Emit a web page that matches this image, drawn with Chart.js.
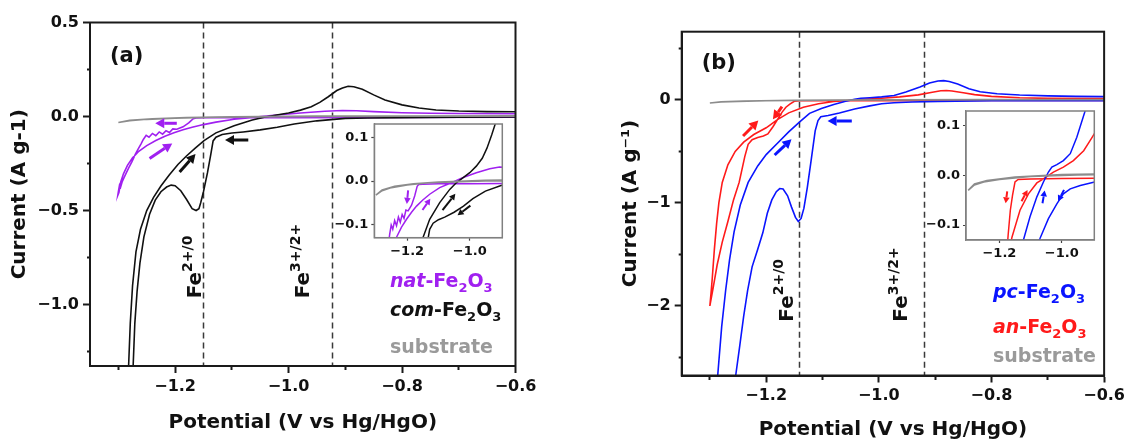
<!DOCTYPE html>
<html>
<head>
<meta charset="utf-8">
<title>Fe2O3 cyclic voltammetry</title>
<script src="https://cdn.jsdelivr.net/npm/chart.js@4.4.1/dist/chart.umd.min.js"></script>
<style>
  html, body { margin: 0; padding: 0; background: #fff; }
  #page { position: relative; width: 1129px; height: 445px; overflow: hidden; }
  #page canvas { position: absolute; }
</style>
</head>
<body>
<div id="page">
  <canvas id="mainA" width="560" height="445" style="left:0;top:0"></canvas>
  <canvas id="mainB" width="569" height="445" style="left:560px;top:0"></canvas>
  <canvas id="insetA" width="180" height="160" style="left:330px;top:110px"></canvas>
  <canvas id="insetB" width="190" height="170" style="left:920px;top:95px"></canvas>
</div>
<script>
const FONT = 'DejaVu Sans';
const INK = '#111111';
const COLORS = { com: '#111111', nat: '#a020f0', pc: '#0a14ff', an: '#ff1a1a', sub: '#8c8c8c', subText: '#9a9a9a' };

// axis ticks (blank label = minor tick)
const potentialTicks = [-1.3, -1.2, -1.1, -1.0, -0.9, -0.8, -0.7, -0.6];
const potentialLabels = ['', '−1.2', '', '−1.0', '', '−0.8', '', '−0.6'];
const currentTicksA = [0.5, 0.25, 0, -0.25, -0.5, -0.75, -1.0, -1.25];
const currentLabelsA = ['0.5', '', '0.0', '', '−0.5', '', '−1.0', ''];
const currentTicksB = [0.5, 0, -0.5, -1, -1.5, -2, -2.5];
const currentLabelsB = ['', '0', '', '−1', '', '−2', ''];
const insetPotentialTicks = [-1.2, -1.0];
const insetPotentialLabels = ['−1.2', '−1.0'];
const insetCurrentTicks = [0.1, 0, -0.1];
const insetCurrentLabels = ['0.1', '0.0', '−0.1'];

// redox reference potentials (dashed lines)
const redoxA = [-1.15, -0.924];
const redoxB = [-1.142, -0.92];

// CV loops: [potential V, current A/g], scan starts at -0.6 V going negative
const comFe2O3 = [
  [-0.60,-0.003],[-0.70,-0.004],[-0.80,-0.006],[-0.86,-0.008],[-0.90,-0.010],[-0.95,-0.023],
  [-0.99,-0.040],[-1.02,-0.057],[-1.05,-0.071],[-1.08,-0.082],[-1.10,-0.088],[-1.117,-0.096],
  [-1.128,-0.110],[-1.133,-0.130],[-1.137,-0.20],[-1.143,-0.30],[-1.150,-0.40],[-1.155,-0.46],
  [-1.158,-0.49],[-1.163,-0.50],[-1.170,-0.49],[-1.180,-0.44],[-1.190,-0.395],[-1.200,-0.368],
  [-1.207,-0.365],[-1.215,-0.375],[-1.225,-0.40],[-1.235,-0.445],[-1.245,-0.52],[-1.255,-0.64],
  [-1.262,-0.78],[-1.267,-0.93],[-1.271,-1.10],[-1.274,-1.33],[-1.278,-1.60],[-1.285,-1.90],
  [-1.290,-2.10],[-1.286,-1.85],[-1.282,-1.33],[-1.279,-1.10],[-1.275,-0.90],[-1.269,-0.72],
  [-1.261,-0.60],[-1.250,-0.50],[-1.238,-0.43],[-1.225,-0.37],[-1.210,-0.31],[-1.195,-0.255],
  [-1.180,-0.21],[-1.165,-0.17],[-1.149,-0.128],[-1.128,-0.087],[-1.096,-0.049],[-1.064,-0.019],
  [-1.043,-0.004],[-1.021,0.008],[-1.000,0.019],[-0.979,0.034],[-0.960,0.052],[-0.945,0.075],
  [-0.930,0.105],[-0.915,0.138],[-0.905,0.152],[-0.895,0.161],[-0.885,0.158],[-0.870,0.145],
  [-0.850,0.115],[-0.830,0.088],[-0.800,0.062],[-0.770,0.045],[-0.740,0.035],[-0.700,0.029],
  [-0.650,0.026],[-0.600,0.025]
];
const natFe2O3 = [
  [-0.60,-0.004],[-0.80,-0.005],[-1.00,-0.006],[-1.10,-0.006],[-1.15,-0.007],[-1.163,-0.008],
  [-1.168,-0.012],[-1.176,-0.034],[-1.186,-0.055],[-1.197,-0.068],[-1.204,-0.066],[-1.210,-0.085],
  [-1.216,-0.076],[-1.222,-0.094],[-1.228,-0.082],[-1.234,-0.102],[-1.240,-0.090],[-1.246,-0.110],
  [-1.251,-0.100],[-1.256,-0.122],[-1.260,-0.145],[-1.265,-0.172],[-1.270,-0.200],[-1.276,-0.240],
  [-1.282,-0.275],[-1.286,-0.300],[-1.290,-0.325],[-1.293,-0.345],[-1.296,-0.375],[-1.298,-0.365],
  [-1.300,-0.400],[-1.301,-0.420],
  [-1.299,-0.405],[-1.296,-0.350],[-1.291,-0.305],[-1.284,-0.260],[-1.275,-0.220],[-1.264,-0.185],
  [-1.250,-0.155],[-1.234,-0.128],[-1.218,-0.105],[-1.202,-0.087],[-1.186,-0.071],[-1.170,-0.057],
  [-1.150,-0.043],[-1.128,-0.030],[-1.096,-0.015],[-1.053,-0.002],[-1.021,0.008],[-0.979,0.019],
  [-0.936,0.028],[-0.905,0.032],[-0.880,0.031],[-0.850,0.026],[-0.800,0.020],[-0.750,0.017],
  [-0.700,0.016],[-0.600,0.015]
];
const substrateA = [
  [-0.60,0.001],[-0.80,0.001],[-0.95,0.000],[-1.05,-0.002],[-1.13,-0.004],[-1.20,-0.009],
  [-1.25,-0.015],[-1.28,-0.022],[-1.30,-0.032],[-1.28,-0.020],[-1.24,-0.012],[-1.18,-0.006],
  [-1.10,-0.002],[-0.95,0.002],[-0.80,0.003],[-0.60,0.004]
];
const pcFe2O3 = [
  [-0.60,-0.006],[-0.70,-0.007],[-0.80,-0.008],[-0.895,-0.013],[-0.941,-0.020],[-0.973,-0.027],
  [-0.995,-0.037],[-1.016,-0.057],[-1.043,-0.087],[-1.070,-0.127],[-1.090,-0.150],[-1.103,-0.162],
  [-1.108,-0.20],[-1.113,-0.30],[-1.120,-0.58],[-1.127,-0.85],[-1.133,-1.05],[-1.138,-1.15],
  [-1.143,-1.18],[-1.148,-1.14],[-1.155,-1.04],[-1.162,-0.93],[-1.170,-0.865],[-1.176,-0.86],
  [-1.182,-0.89],[-1.190,-0.97],[-1.198,-1.10],[-1.206,-1.29],[-1.215,-1.45],[-1.225,-1.62],
  [-1.233,-1.85],[-1.240,-2.10],[-1.247,-2.39],[-1.254,-2.67],[-1.262,-3.00],[-1.280,-3.40],
  [-1.300,-3.60],
  [-1.295,-3.20],[-1.290,-2.90],[-1.286,-2.67],[-1.279,-2.20],[-1.272,-1.85],[-1.265,-1.55],
  [-1.257,-1.28],[-1.246,-1.02],[-1.232,-0.80],[-1.215,-0.64],[-1.200,-0.53],[-1.180,-0.42],
  [-1.160,-0.31],[-1.140,-0.21],[-1.123,-0.13],[-1.102,-0.083],[-1.080,-0.043],[-1.059,-0.013],
  [-1.043,0.007],[-1.032,0.017],[-1.016,0.022],[-0.995,0.030],[-0.973,0.044],[-0.952,0.077],
  [-0.927,0.127],[-0.910,0.165],[-0.895,0.185],[-0.885,0.188],[-0.875,0.180],[-0.860,0.155],
  [-0.840,0.110],[-0.820,0.080],[-0.790,0.060],[-0.750,0.048],[-0.700,0.040],[-0.650,0.035],
  [-0.600,0.033]
];
const anFe2O3 = [
  [-0.60,-0.004],[-0.80,-0.005],[-1.00,-0.006],[-1.10,-0.007],[-1.140,-0.008],[-1.150,-0.013],
  [-1.158,-0.040],[-1.165,-0.070],[-1.172,-0.120],[-1.180,-0.190],[-1.188,-0.260],[-1.197,-0.330],
  [-1.205,-0.350],[-1.215,-0.365],[-1.225,-0.385],[-1.232,-0.430],[-1.238,-0.550],[-1.248,-0.800],
  [-1.258,-0.970],[-1.268,-1.180],[-1.278,-1.380],[-1.287,-1.600],[-1.294,-1.820],[-1.300,-2.000],
  [-1.298,-1.880],[-1.296,-1.750],[-1.292,-1.450],[-1.288,-1.200],[-1.284,-1.000],[-1.278,-0.800],
  [-1.268,-0.630],[-1.255,-0.500],[-1.240,-0.410],[-1.222,-0.335],[-1.200,-0.270],[-1.180,-0.190],
  [-1.160,-0.125],[-1.134,-0.070],[-1.107,-0.037],[-1.080,-0.015],[-1.059,-0.007],[-1.027,0.007],
  [-0.995,0.017],[-0.963,0.030],[-0.930,0.050],[-0.905,0.075],[-0.890,0.090],[-0.880,0.092],
  [-0.870,0.088],[-0.850,0.070],[-0.830,0.052],[-0.800,0.035],[-0.750,0.022],[-0.700,0.016],
  [-0.600,0.013]
];
const substrateB = [
  [-0.60,0.002],[-0.80,0.002],[-0.95,0.001],[-1.10,-0.002],[-1.20,-0.008],[-1.25,-0.013],
  [-1.28,-0.019],[-1.30,-0.030],[-1.28,-0.017],[-1.24,-0.010],[-1.15,-0.003],[-1.00,0.002],
  [-0.80,0.004],[-0.60,0.004]
];

// scan-direction arrows: [fromV, fromI, toV, toI, series]
const arrowsA = [
  [-1.197, -0.036, -1.235, -0.036, 'nat'],
  [-1.245, -0.223, -1.205, -0.143, 'nat'],
  [-1.192, -0.295, -1.164, -0.200, 'com'],
  [-1.071, -0.125, -1.112, -0.125, 'com']
];
const arrowsB = [
  [-1.048, -0.204, -1.091, -0.204, 'pc'],
  [-1.185, -0.534, -1.155, -0.382, 'pc'],
  [-1.241, -0.350, -1.214, -0.200, 'an'],
  [-1.172, -0.065, -1.188, -0.188, 'an']
];
const insetArrowsA = [
  [-1.197, -0.021, -1.201, -0.052, 'nat'],
  [-1.151, -0.066, -1.126, -0.040, 'nat'],
  [-1.087, -0.066, -1.046, -0.029, 'com'],
  [-0.998, -0.056, -1.039, -0.078, 'com']
];
const insetArrowsB = [
  [-1.175, -0.032, -1.180, -0.056, 'an'],
  [-1.129, -0.052, -1.110, -0.029, 'an'],
  [-1.062, -0.056, -1.055, -0.030, 'pc'],
  [-0.993, -0.029, -1.012, -0.052, 'pc']
];

function rich(ctx, parts, x, y, size, color) {
  let cx = x;
  ctx.fillStyle = color;
  ctx.textBaseline = 'alphabetic';
  ctx.textAlign = 'left';
  for (const p of parts) {
    const small = p.sub || p.sup;
    const s = small ? Math.round(size * 0.68) : size;
    ctx.font = (p.it ? 'italic ' : '') + 'bold ' + s + 'px "' + FONT + '"';
    const dy = p.sub ? size * 0.25 : p.sup ? -size * 0.47 : 0;
    ctx.fillText(p.t, cx, y + dy);
    cx += ctx.measureText(p.t).width;
  }
}

function drawArrow(ctx, x1, y1, x2, y2, color, w, head) {
  const ang = Math.atan2(y2 - y1, x2 - x1);
  const bx = x2 - head * Math.cos(ang), by = y2 - head * Math.sin(ang);
  const hw = head * 0.55;
  ctx.strokeStyle = color;
  ctx.fillStyle = color;
  ctx.lineWidth = w;
  ctx.lineCap = 'butt';
  ctx.beginPath(); ctx.moveTo(x1, y1); ctx.lineTo(bx, by); ctx.stroke();
  ctx.beginPath();
  ctx.moveTo(x2, y2);
  ctx.lineTo(bx + hw * Math.sin(ang), by - hw * Math.cos(ang));
  ctx.lineTo(bx - hw * Math.sin(ang), by + hw * Math.cos(ang));
  ctx.closePath();
  ctx.fill();
}

function decor(cfg) {
  return {
    id: 'decor',
    beforeDraw(chart) {
      if (!cfg.fill) return;
      const { ctx, chartArea: a } = chart;
      ctx.save();
      ctx.fillStyle = '#fff';
      ctx.fillRect(a.left, a.top, a.width, a.height);
      ctx.restore();
    },
    beforeDatasetsDraw(chart) {
      const { ctx, chartArea: a, scales: { x } } = chart;
      ctx.save();
      ctx.setLineDash([6, 4]);
      ctx.strokeStyle = '#3a3a3a';
      ctx.lineWidth = 1.5;
      (cfg.guides || []).forEach(v => {
        const px = Math.round(x.getPixelForValue(v)) + 0.5;
        ctx.beginPath(); ctx.moveTo(px, a.top); ctx.lineTo(px, a.bottom); ctx.stroke();
      });
      ctx.restore();
    },
    afterDatasetsDraw(chart) {
      const { ctx, chartArea: a, scales: { x, y } } = chart;
      ctx.save();
      ctx.strokeStyle = cfg.frame;
      ctx.lineWidth = cfg.frameWidth;
      ctx.strokeRect(a.left, a.top, a.width, a.height);
      (cfg.arrows || []).forEach(r => drawArrow(ctx,
        x.getPixelForValue(r[0]), y.getPixelForValue(r[1]),
        x.getPixelForValue(r[2]), y.getPixelForValue(r[3]),
        COLORS[r[4]], cfg.arrowWidth, cfg.arrowHead));
      (cfg.fe || []).forEach(f => {
        ctx.save();
        ctx.translate(x.getPixelForValue(f.v), y.getPixelForValue(f.i));
        ctx.rotate(-Math.PI / 2);
        rich(ctx, [{ t: 'Fe' }, { t: f.sup, sup: true }], 0, 0, 20, INK);
        ctx.restore();
      });
      (cfg.legend || []).forEach(l => rich(ctx, l.parts, l.x, l.y, 19, l.color));
      if (cfg.tag) {
        ctx.font = 'bold 21px "' + FONT + '"';
        ctx.fillStyle = INK;
        ctx.textAlign = 'left';
        ctx.textBaseline = 'alphabetic';
        ctx.fillText(cfg.tag.text, cfg.tag.x, cfg.tag.y);
      }
      ctx.restore();
    }
  };
}

function axis(pos, min, max, ticks, labels, s) {
  const isX = pos === 'bottom';
  const minor = s.minor || 3;
  return {
    type: 'linear', position: pos, min, max,
    afterBuildTicks: a => { a.ticks = ticks.map(value => ({ value })); },
    afterFit: a => { if (isX) a.height = s.size; else a.width = s.size; },
    border: { display: true, color: s.frame, width: s.lw },
    grid: {
      drawOnChartArea: false, drawTicks: true, tickLength: s.tick,
      tickColor: s.tickColor || s.frame, tickWidth: s.lw,
      tickBorderDash: c => {
        if (!c.tick || labels[ticks.indexOf(c.tick.value)] !== '') return [];
        return isX ? [minor, 60] : [0, s.tick - minor, minor, 60];
      }
    },
    ticks: {
      autoSkip: false, maxRotation: 0, minRotation: 0, padding: s.pad, color: INK,
      font: { family: FONT, weight: 'bold', size: s.font },
      callback: (v, i) => labels[i]
    },
    title: s.title
      ? { display: true, text: s.title, color: INK, font: { family: FONT, weight: 'bold', size: 20 }, padding: s.tpad }
      : { display: false }
  };
}

function line(data, color, w) {
  return {
    data: data.map(([x, y]) => ({ x, y })),
    showLine: true, borderColor: color, borderWidth: w,
    pointRadius: 0, pointHoverRadius: 0, fill: false, tension: 0
  };
}

function makeChart(id, datasets, padding, x, y, plugin) {
  return new Chart(document.getElementById(id), {
    type: 'scatter',
    data: { datasets },
    options: {
      responsive: false, animation: false, events: [],
      layout: { padding },
      plugins: { legend: { display: false }, tooltip: { enabled: false } },
      scales: { x, y }
    },
    plugins: [plugin]
  });
}

const mainStyle = { frame: '#1a1a1a', lw: 2, tick: 7, pad: 4, font: 16 };
const insetStyle = { frame: '#808080', tickColor: '#444', lw: 1.2, tick: 3, pad: 3, font: 13 };
const xTitle = 'Potential (V vs Hg/HgO)';

// panel (a)
makeChart('mainA',
  [line(substrateA, COLORS.sub, 1.6), line(comFe2O3, COLORS.com, 1.6), line(natFe2O3, COLORS.nat, 1.6)],
  { left: 0, top: 22.5, right: 44.5, bottom: 0 },
  axis('bottom', -1.35, -0.6, potentialTicks, potentialLabels,
    Object.assign({}, mainStyle, { size: 79, title: xTitle, tpad: { top: 0, bottom: 10 } })),
  axis('left', -1.327, 0.5, currentTicksA, currentLabelsA,
    Object.assign({}, mainStyle, { size: 90, title: 'Current (A g-1)', tpad: { top: 8, bottom: 0 } })),
  decor({
    frame: '#1a1a1a', frameWidth: 2, guides: redoxA, arrows: arrowsA, arrowWidth: 3, arrowHead: 9,
    fe: [{ v: -1.154, i: -0.967, sup: '2+/0' }, { v: -0.964, i: -0.967, sup: '3+/2+' }],
    legend: [
      { x: 390, y: 287, color: COLORS.nat, parts: [{ t: 'nat', it: true }, { t: '-Fe' }, { t: '2', sub: true }, { t: 'O' }, { t: '3', sub: true }] },
      { x: 390, y: 316, color: COLORS.com, parts: [{ t: 'com', it: true }, { t: '-Fe' }, { t: '2', sub: true }, { t: 'O' }, { t: '3', sub: true }] },
      { x: 390, y: 353, color: COLORS.subText, parts: [{ t: 'substrate' }] }
    ],
    tag: { text: '(a)', x: 110, y: 62 }
  }));

// panel (b)
makeChart('mainB',
  [line(substrateB, COLORS.sub, 1.6), line(pcFe2O3, COLORS.pc, 1.6), line(anFe2O3, COLORS.an, 1.6)],
  { left: 50, top: 31.7, right: 21.5, bottom: 0 },
  axis('bottom', -1.35, -0.6, potentialTicks, potentialLabels,
    Object.assign({}, mainStyle, { size: 69.5, title: xTitle, tpad: { top: 0, bottom: 3 } })),
  axis('left', -2.675, 0.663, currentTicksB, currentLabelsB,
    Object.assign({}, mainStyle, { size: 71.7, title: 'Current (A g⁻¹)', tpad: { top: 8.5, bottom: 0 } })),
  decor({
    frame: '#1a1a1a', frameWidth: 2, guides: redoxB, arrows: arrowsB, arrowWidth: 3, arrowHead: 9,
    fe: [{ v: -1.153, i: -2.152, sup: '2+/0' }, { v: -0.950, i: -2.152, sup: '3+/2+' }],
    legend: [
      { x: 433, y: 298, color: COLORS.pc, parts: [{ t: 'pc', it: true }, { t: '-Fe' }, { t: '2', sub: true }, { t: 'O' }, { t: '3', sub: true }] },
      { x: 433, y: 333, color: COLORS.an, parts: [{ t: 'an', it: true }, { t: '-Fe' }, { t: '2', sub: true }, { t: 'O' }, { t: '3', sub: true }] },
      { x: 433, y: 362, color: COLORS.subText, parts: [{ t: 'substrate' }] }
    ],
    tag: { text: '(b)', x: 141.7, y: 68.5 }
  }));

// insets: same loops, zoomed around the onset region
makeChart('insetA',
  [line(substrateA, COLORS.sub, 1.5), line(comFe2O3, COLORS.com, 1.5), line(natFe2O3, COLORS.nat, 1.5)],
  { left: 0, top: 14, right: 7.7, bottom: 0 },
  axis('bottom', -1.305, -0.896, insetPotentialTicks, insetPotentialLabels, Object.assign({}, insetStyle, { size: 32.3 })),
  axis('left', -0.129, 0.13, insetCurrentTicks, insetCurrentLabels, Object.assign({}, insetStyle, { size: 44.3 })),
  decor({ fill: true, frame: '#808080', frameWidth: 1.5, arrows: insetArrowsA, arrowWidth: 2, arrowHead: 6 }));

makeChart('insetB',
  [line(substrateB, COLORS.sub, 1.5), line(pcFe2O3, COLORS.pc, 1.5), line(anFe2O3, COLORS.an, 1.5)],
  { left: 0, top: 16, right: 15.7, bottom: 0 },
  axis('bottom', -1.307, -0.896, insetPotentialTicks, insetPotentialLabels, Object.assign({}, insetStyle, { size: 25 })),
  axis('left', -0.13, 0.13, insetCurrentTicks, insetCurrentLabels, Object.assign({}, insetStyle, { size: 46 })),
  decor({ fill: true, frame: '#808080', frameWidth: 1.5, arrows: insetArrowsB, arrowWidth: 2, arrowHead: 6 }));
</script>
</body>
</html>
